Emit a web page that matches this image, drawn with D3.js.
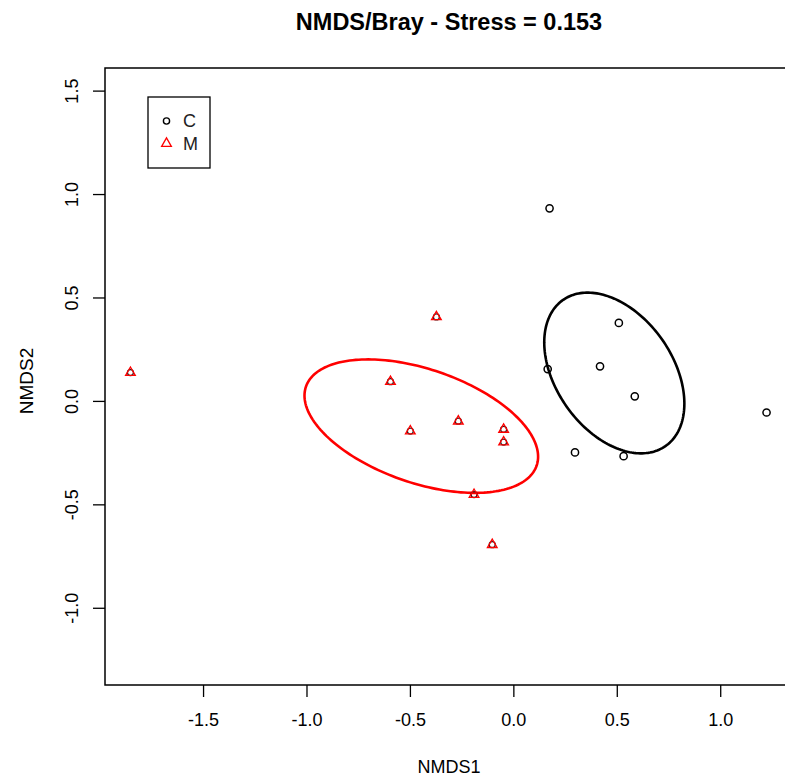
<!DOCTYPE html>
<html>
<head>
<meta charset="utf-8">
<script src="https://cdn.jsdelivr.net/npm/d3@7"></script>
<style>
  html, body { margin: 0; padding: 0; background: #fff; }
  svg { display: block; font-family: "Liberation Sans", Arial, sans-serif; }
</style>
</head>
<body>
<svg id="chart" width="785" height="779"></svg>
<script>
// NMDS site scores by group
const groups = ["C", "M"];
const groupColors = ["#000000", "#ff0000"];

const cX = [0.175, 0.510, 0.419, 0.166, 0.587, 1.224, 0.298, 0.533];
const cY = [0.931, 0.377, 0.167, 0.154, 0.022, -0.056, -0.249, -0.267];

const mX = [-0.372, -0.594, -0.266, -0.498, -0.047, -0.047, -0.190, -0.102, -1.851];
const mY = [0.406, 0.093, -0.098, -0.146, -0.138, -0.199, -0.453, -0.695, 0.137];

// group ellipses: centre and covariance (sxx, syy, sxy)
const ellipseCentres = [[0.488, 0.135], [-0.445, -0.122]];
const ellipseCov = [[0.1147, 0.1509, -0.0501], [0.3188, 0.1041, -0.0833]];

const xTicks = [-1.5, -1.0, -0.5, 0.0, 0.5, 1.0];
const yTicks = [-1.0, -0.5, 0.0, 0.5, 1.0, 1.5];

const titleText = "NMDS/Bray - Stress = 0.153";
const xLabel = "NMDS1";
const yLabel = "NMDS2";

// plot region
const plotLeft = 105, plotTop = 68, plotBottom = 685, plotRight = 792;

const allX = cX.concat(mX), allY = cY.concat(mY);
const [x0, x1] = d3.extent(allX);
const padX = (x1 - x0) * 0.04;
const x = d3.scaleLinear().domain([x0 - padX, x1 + padX]).range([plotLeft, plotRight]);

// equal aspect: y units per pixel same as x
const unitPx = (plotRight - plotLeft) / (x1 - x0 + 2 * padX);
const [y0, y1] = d3.extent(allY);
const yMid = (y0 + y1) / 2;
const halfY = (plotBottom - plotTop) / 2 / unitPx;
const y = d3.scaleLinear().domain([yMid - halfY, yMid + halfY]).range([plotBottom, plotTop]);

const svg = d3.select("#chart");
const fmt = d => d.toFixed(1);

// ellipses
const line = d3.line().x(d => x(d[0])).y(d => y(d[1]));
ellipseCentres.forEach((c, i) => {
  const [sxx, syy, sxy] = ellipseCov[i];
  const l11 = Math.sqrt(sxx), l21 = sxy / l11, l22 = Math.sqrt(syy - l21 * l21);
  const pts = d3.range(0, 201).map(k => {
    const t = 2 * Math.PI * k / 200;
    return [c[0] + l11 * Math.cos(t), c[1] + l21 * Math.cos(t) + l22 * Math.sin(t)];
  });
  svg.append("path")
    .attr("d", line(pts))
    .attr("fill", "none")
    .attr("stroke", groupColors[i])
    .attr("stroke-width", 2.6);
});

// R-style open triangle (pch 2)
const R0 = 3.6;
function trianglePath(cx, cy) {
  const r = 1.555 * R0, xc = 1.347 * R0, yc = 0.778 * R0;
  return `M${cx},${cy - r}L${cx + xc},${cy + yc}L${cx - xc},${cy + yc}Z`;
}

// C points: black circles
svg.append("g").selectAll("circle")
  .data(cX.map((v, i) => [v, cY[i]]))
  .join("circle")
  .attr("cx", d => x(d[0])).attr("cy", d => y(d[1]))
  .attr("r", R0).attr("fill", "none")
  .attr("stroke", "#000").attr("stroke-width", 1.5);

// M points: base circle with red triangle on top
const mPts = mX.map((v, i) => [v, mY[i]]);
svg.append("g").selectAll("circle")
  .data(mPts)
  .join("circle")
  .attr("cx", d => x(d[0])).attr("cy", d => y(d[1]))
  .attr("r", R0 - 0.6).attr("fill", "none")
  .attr("stroke", "#222").attr("stroke-width", 1.3);
svg.append("g").selectAll("path")
  .data(mPts)
  .join("path")
  .attr("d", d => trianglePath(x(d[0]), y(d[1])))
  .attr("fill", "none")
  .attr("stroke", groupColors[1]).attr("stroke-width", 1.3);

// box (left, top, bottom)
svg.append("path")
  .attr("d", `M${plotRight},${plotTop}H${plotLeft}V${plotBottom}H${plotRight}`)
  .attr("fill", "none").attr("stroke", "#000").attr("stroke-width", 1.5);

// x axis
const xAxis = d3.axisBottom(x).tickValues(xTicks).tickSize(12).tickPadding(16)
  .tickFormat(fmt);
const gx = svg.append("g").attr("transform", `translate(0,${plotBottom})`).call(xAxis);
gx.select(".domain").remove();
gx.selectAll(".tick line").attr("stroke", "#000").attr("stroke-width", 1.3);
gx.selectAll(".tick text").attr("font-size", 18).attr("fill", "#000")
  .attr("font-family", "Liberation Sans, Arial, sans-serif");

// y axis
const yAxis = d3.axisLeft(y).tickValues(yTicks).tickSize(12).tickFormat(fmt);
const gy = svg.append("g").attr("transform", `translate(${plotLeft},0)`).call(yAxis);
gy.select(".domain").remove();
gy.selectAll(".tick line").attr("stroke", "#000").attr("stroke-width", 1.3);
gy.selectAll(".tick text")
  .attr("font-size", 18).attr("fill", "#000")
  .attr("font-family", "Liberation Sans, Arial, sans-serif")
  .attr("x", null)
  .attr("text-anchor", "middle")
  .attr("transform", "translate(-33,0) rotate(-90)")
  .attr("dy", "0.35em");

// titles
svg.append("text").attr("x", 449).attr("y", 30)
  .attr("text-anchor", "middle").attr("font-weight", "bold").attr("font-size", 23.5)
  .text(titleText);
svg.append("text").attr("x", 449).attr("y", 773)
  .attr("text-anchor", "middle").attr("font-size", 18)
  .text(xLabel);
svg.append("text").attr("transform", "translate(26,381) rotate(-90)")
  .attr("text-anchor", "middle").attr("dy", "0.35em").attr("font-size", 19)
  .text(yLabel);

// legend
const lg = svg.append("g");
lg.append("rect").attr("x", 148).attr("y", 97).attr("width", 62).attr("height", 71)
  .attr("fill", "#fff").attr("stroke", "#000").attr("stroke-width", 1.3);
lg.append("circle").attr("cx", 166.5).attr("cy", 121).attr("r", R0 - 0.5)
  .attr("fill", "none").attr("stroke", "#000").attr("stroke-width", 1.4);
lg.append("path").attr("d", trianglePath(166.5, 143.5))
  .attr("fill", "none").attr("stroke", groupColors[1]).attr("stroke-width", 1.3);
groups.forEach((g, i) => {
  lg.append("text").attr("x", 183).attr("y", 121 + i * 23).attr("dy", "0.35em")
    .attr("font-size", 18).attr("fill", "#222").text(g);
});
</script>
</body>
</html>
